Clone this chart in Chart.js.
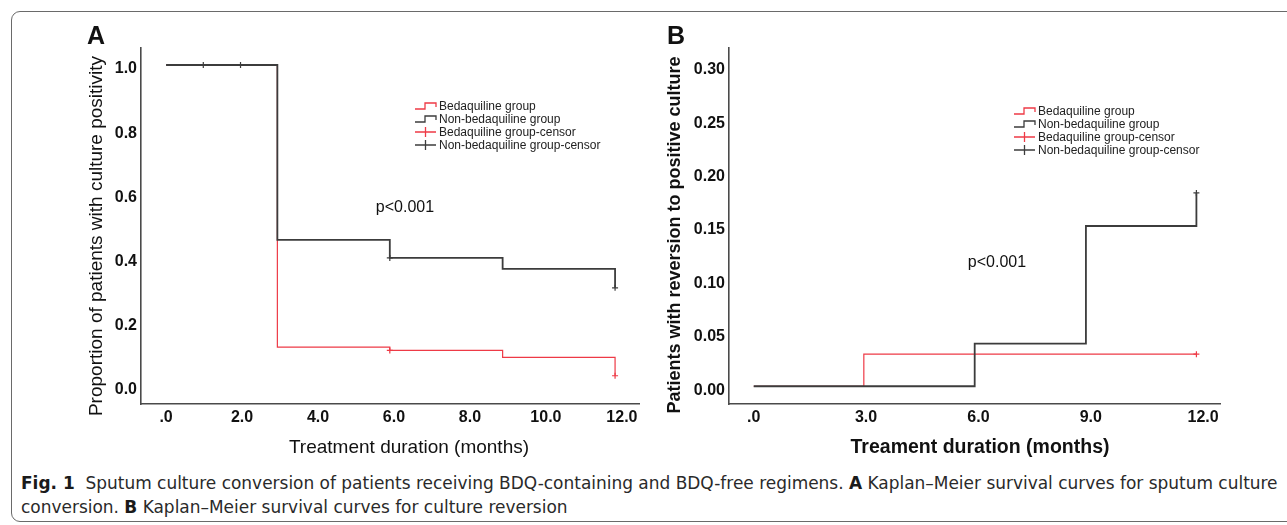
<!DOCTYPE html>
<html lang="en">
<head>
<meta charset="UTF-8">
<title>Fig. 1 Sputum culture conversion</title>
<script src="https://cdn.jsdelivr.net/npm/chart.js@4"></script>
<style>
    body { margin: 0; background: #fff; width: 1287px; height: 525px; overflow: hidden; position: relative; font-family: "Liberation Sans", Arial, sans-serif; }
    .frame { position: absolute; left: 11px; top: 11px; width: 1300px; height: 511px; border: 1px solid #6a6a6a; border-radius: 9px; box-sizing: border-box; }
    .panel { position: absolute; top: 0; height: 470px; }
    #panelA { left: 0; width: 650px; }
    #panelB { left: 650px; width: 637px; }
    .caption { position: absolute; left: 21px; top: 471px; font-family: "Liberation Sans Narrow", "DejaVu Sans Condensed", "Liberation Sans", sans-serif; font-size: 18px; line-height: 24px; color: #2a2a2a; white-space: nowrap; transform-origin: 0 0; }
    .caption b { color: #1a1a1a; }
</style>
</head>
<body>
<div class="frame"></div>
<div class="panel" id="panelA"><canvas id="chartA"></canvas></div>
<div class="panel" id="panelB"><canvas id="chartB"></canvas></div>
<div class="caption" id="caption">
    <div id="capLine1"><b>Fig. 1</b>&nbsp; Sputum culture conversion of patients receiving BDQ-containing and BDQ-free regimens. <b>A</b> Kaplan–Meier survival curves for sputum culture</div>
    <div>conversion. <b>B</b> Kaplan–Meier survival curves for culture reversion</div>
</div>

<script>
// ---- data: panel A (proportion still culture positive) ----
const timesBdqA = [0, 2.93, 5.89, 8.86, 11.82];
const survBdqA = [1, 0.121, 0.111, 0.089, 0.032];
const timesNonA = [0, 0.98, 1.96, 2.93, 5.89, 8.86, 11.82];
const survNonA = [1, 1, 1, 0.455, 0.399, 0.365, 0.306];
const censorTimesBdqA = [5.89, 11.82];
const censorBdqA = [0.111, 0.032];
const censorTimesNonA = [0.98, 1.96, 5.89, 11.82];
const censorNonA = [1, 1, 0.399, 0.306];

// ---- data: panel B (reversion to positive culture) ----
const timesBdqB = [0, 2.94, 11.82];
const cumBdqB = [0, 0.030, 0.030];
const timesNonB = [0, 5.90, 8.87, 11.82];
const cumNonB = [0, 0.040, 0.150, 0.181];
const censorTimesBdqB = [11.82];
const censorBdqB = [0.030];
const censorTimesNonB = [11.82];
const censorNonB = [0.181];

// ---- ticks / labels ----
const xTicksA = [0, 2, 4, 6, 8, 10, 12];
const xTicksB = [0, 3, 6, 9, 12];
const yTicksA = [0, 0.2, 0.4, 0.6, 0.8, 1.0];
const yTicksB = [0, 0.05, 0.10, 0.15, 0.20, 0.25, 0.30];
const legendLabels = ['Bedaquiline group', 'Non-bedaquiline group', 'Bedaquiline group-censor', 'Non-bedaquiline group-censor'];

const RED = '#ee3a46';
const DARK = '#3c3c3c';
const FONT = '"Liberation Sans", Arial, sans-serif';

function pts(xs, ys) {
    return xs.map((x, i) => ({x: x, y: ys[i]}));
}

function xLabel(v) {
    return v === 0 ? '.0' : v.toFixed(1);
}

// panel letter, axis titles, p value and the SPSS style legend
const panelText = {
    id: 'panelText',
    afterDraw(chart, args, o) {
        const ctx = chart.ctx;
        ctx.save();
        ctx.fillStyle = '#111';
        ctx.textAlign = 'center';
        ctx.textBaseline = 'middle';

        ctx.font = 'bold 25px ' + FONT;
        ctx.fillText(o.letter, o.letterAt[0], o.letterAt[1]);

        ctx.font = o.titleFont + FONT;
        ctx.fillText(o.xTitle, o.xTitleAt[0], o.xTitleAt[1]);
        ctx.save();
        ctx.font = o.yTitleFont + FONT;
        ctx.translate(o.yTitleAt[0], o.yTitleAt[1]);
        ctx.rotate(-Math.PI / 2);
        ctx.fillText(o.yTitle, 0, 0);
        ctx.restore();

        ctx.font = '16px ' + FONT;
        ctx.fillText('p<0.001', o.pAt[0], o.pAt[1]);

        // legend
        const lx = o.legendAt[0];
        ctx.textAlign = 'left';
        ctx.font = '12px ' + FONT;
        legendLabels.forEach((label, i) => {
            const y = o.legendAt[1] + i * o.legendGap;
            const col = i % 2 === 0 ? RED : DARK;
            ctx.strokeStyle = col;
            ctx.lineWidth = 1.3;
            ctx.beginPath();
            if (i < 2) {
                ctx.moveTo(lx, y + 3);
                ctx.lineTo(lx + 10, y + 3);
                ctx.lineTo(lx + 10, y - 3);
                ctx.lineTo(lx + 21, y - 3);
                ctx.lineTo(lx + 21, y + 1);
            } else {
                ctx.moveTo(lx, y);
                ctx.lineTo(lx + 21, y);
                ctx.moveTo(lx + 10.5, y - 5);
                ctx.lineTo(lx + 10.5, y + 5);
            }
            ctx.stroke();
            ctx.fillStyle = '#222';
            ctx.fillText(label, lx + 24, y + 0.5);
        });
        ctx.restore();
    }
};

function makeChart(id, d) {
    return new Chart(document.getElementById(id), {
        type: 'line',
        data: {
            datasets: [
                {label: legendLabels[0], data: d.bdq, borderColor: RED, borderWidth: 1.2, pointRadius: 0, stepped: true, order: 3},
                {label: legendLabels[1], data: d.non, borderColor: DARK, borderWidth: 1.8, pointRadius: 0, stepped: true, order: 1},
                {label: legendLabels[2], data: d.bdqCensor, showLine: false, pointStyle: 'cross', pointRadius: 3,
                    pointBorderWidth: 1.2, borderColor: RED, order: 2},
                {label: legendLabels[3], data: d.nonCensor, showLine: false, pointStyle: 'cross', pointRadius: 3,
                    pointBorderWidth: 1.2, borderColor: DARK, order: 0}
            ]
        },
        options: {
            responsive: true,
            maintainAspectRatio: false,
            animation: false,
            events: [],
            layout: {padding: {top: 48, left: 0, right: d.padRight, bottom: 0}},
            plugins: {
                legend: {display: false},
                tooltip: {enabled: false},
                panelText: d.text
            },
            scales: {
                x: {
                    type: 'linear',
                    min: -0.66,
                    max: 12.45,
                    grid: {display: false, drawTicks: false},
                    border: {display: true, color: '#4a4a4a', width: 1.6},
                    afterBuildTicks: s => { s.ticks = d.xTicks.map(v => ({value: v})); },
                    afterFit: s => { s.height = 66; },
                    ticks: {
                        padding: 4,
                        color: '#111',
                        font: {family: FONT, size: 16, weight: 'bold'},
                        callback: v => xLabel(v)
                    }
                },
                y: {
                    type: 'linear',
                    min: d.yMin,
                    max: d.yMax,
                    grid: {display: false, drawTicks: false},
                    border: {display: true, color: '#4a4a4a', width: 1.6},
                    afterBuildTicks: s => { s.ticks = d.yTicks.map(v => ({value: v})); },
                    afterFit: s => { s.width = d.yWidth; },
                    ticks: {
                        padding: 4,
                        labelOffset: 4,
                        color: '#111',
                        font: {family: FONT, size: 16, weight: 'bold'},
                        callback: v => v.toFixed(d.yDigits)
                    }
                }
            }
        },
        plugins: [panelText]
    });
}

makeChart('chartA', {
    bdq: pts(timesBdqA, survBdqA),
    non: pts(timesNonA, survNonA),
    bdqCensor: pts(censorTimesBdqA, censorBdqA),
    nonCensor: pts(censorTimesNonA, censorNonA),
    xTicks: xTicksA, yTicks: yTicksA, yDigits: 1,
    yMin: -0.056, yMax: 1.053,
    yWidth: 141, padRight: 11,
    text: {
        letter: 'A', letterAt: [96, 37],
        xTitle: 'Treatment duration (months)', xTitleAt: [409, 448], titleFont: '19px ',
        yTitle: 'Proportion of patients with culture positivity', yTitleAt: [97, 236], yTitleFont: '19px ',
        pAt: [405, 208],
        legendAt: [415, 106], legendGap: 13
    }
});

makeChart('chartB', {
    bdq: pts(timesBdqB, cumBdqB),
    non: pts(timesNonB, cumNonB),
    bdqCensor: pts(censorTimesBdqB, censorBdqB),
    nonCensor: pts(censorTimesNonB, censorNonB),
    xTicks: xTicksB, yTicks: yTicksB, yDigits: 2,
    yMin: -0.0166, yMax: 0.3166,
    yWidth: 79, padRight: 67,
    text: {
        letter: 'B', letterAt: [26, 37],
        xTitle: 'Treament duration (months)', xTitleAt: [330, 448], titleFont: 'bold 19.5px ',
        yTitle: 'Patients with reversion to positive culture', yTitleAt: [25.5, 235], yTitleFont: 'bold 18px ',
        pAt: [347, 263],
        legendAt: [364, 111], legendGap: 13
    }
});

// stretch the caption so its first line spans the frame like the original
const cap = document.getElementById('caption');
const w1 = document.getElementById('capLine1').scrollWidth;
cap.style.transform = 'scaleX(' + (1257 / w1) + ')';
</script>
</body>
</html>
